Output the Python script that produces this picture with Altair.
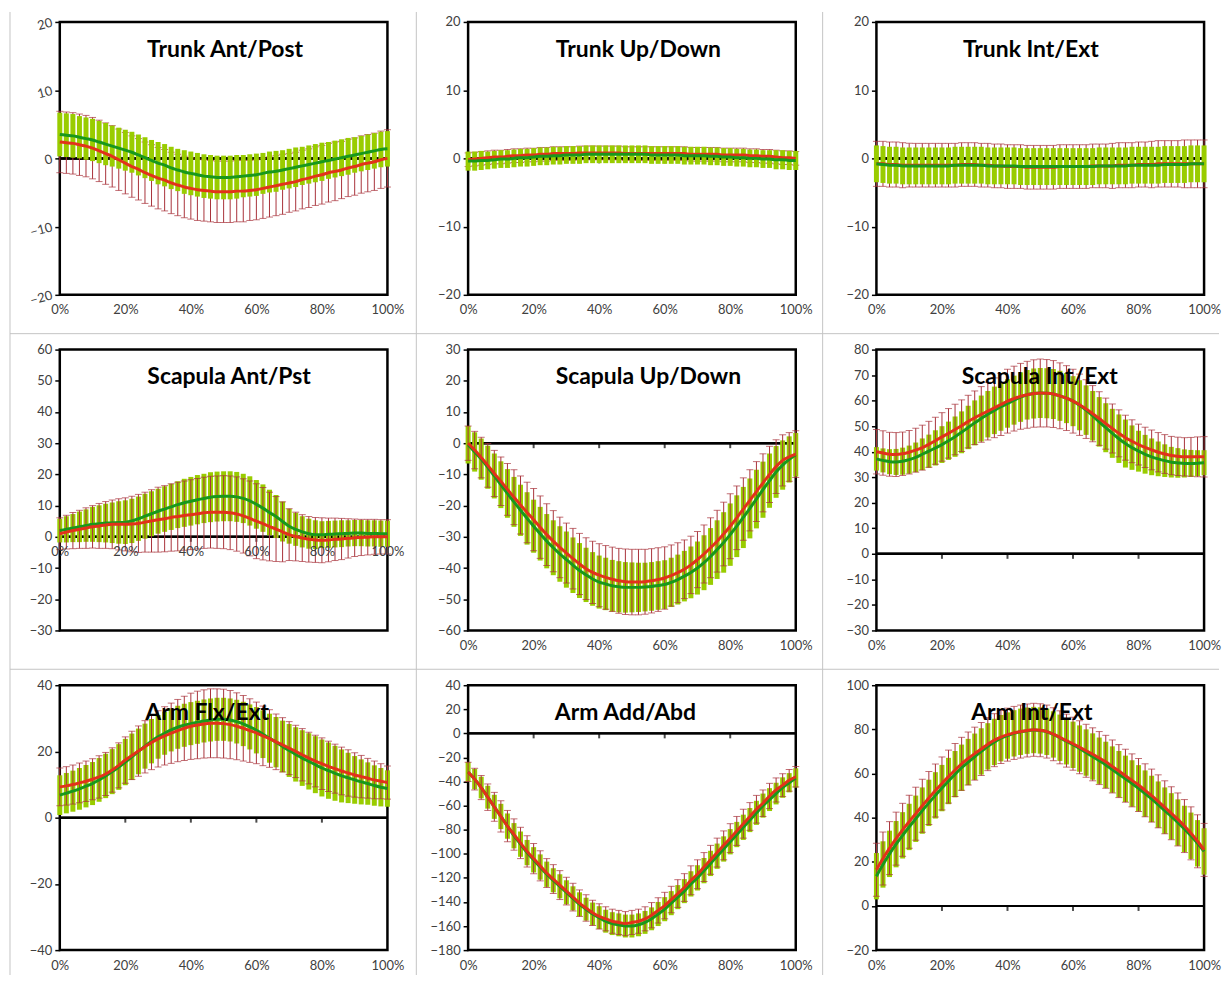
import altair as alt
import pandas as pd

x_pct = list(range(0, 101, 2))

# ---------------- Trunk Ant/Post
p1_g_mean = [3.5,3.4,3.3,3.1,2.9,2.7,2.4,2.1,1.8,1.5, 1.2,0.9,0.5,0.1,-0.3,-0.7,-1.0,-1.4,-1.7,-2.0, -2.2,-2.4,-2.6,-2.7,-2.8,-2.8,-2.8,-2.7,-2.6,-2.5, -2.4,-2.2,-2.0,-1.9,-1.7,-1.5,-1.3,-1.1,-0.9,-0.7, -0.5,-0.3,-0.1,0.1,0.3,0.5,0.7,0.9,1.1,1.3, 1.4]
p1_g_sd = [3.2,3.2,3.2,3.1,3.1,3.1,3.1,3.1,3.0,3.0, 3.0,3.0,3.0,3.0,3.0,3.1,3.1,3.1,3.1,3.2, 3.2,3.2,3.2,3.2,3.2,3.2,3.2,3.2,3.1,3.1, 3.1,3.0,3.0,3.0,2.9,2.9,2.9,2.8,2.8,2.8, 2.8,2.7,2.7,2.7,2.7,2.6,2.6,2.6,2.6,2.6, 2.6]
p1_r_mean = [2.4,2.3,2.2,2.0,1.8,1.5,1.1,0.7,0.3,-0.2, -0.7,-1.2,-1.6,-2.1,-2.5,-2.9,-3.2,-3.6,-3.9,-4.2, -4.4,-4.6,-4.7,-4.8,-4.9,-4.9,-4.9,-4.8,-4.8,-4.7, -4.6,-4.4,-4.2,-4.0,-3.8,-3.6,-3.4,-3.1,-2.9,-2.6, -2.4,-2.1,-1.9,-1.7,-1.4,-1.2,-0.9,-0.7,-0.5,-0.2, 0.0]
p1_r_sd = [4.5,4.5,4.5,4.5,4.5,4.5,4.5,4.5,4.5,4.5, 4.5,4.5,4.5,4.5,4.5,4.5,4.5,4.5,4.5,4.5, 4.5,4.5,4.5,4.5,4.5,4.5,4.5,4.5,4.5,4.4, 4.4,4.4,4.4,4.4,4.4,4.3,4.3,4.3,4.3,4.3, 4.3,4.3,4.3,4.2,4.2,4.2,4.2,4.2,4.2,4.2, 4.2]

# ---------------- Trunk Up/Down
p2_g_mean = [-0.4,-0.4,-0.3,-0.3,-0.2,-0.1,-0.1,0.0,0.1,0.1, 0.2,0.3,0.3,0.4,0.4,0.5,0.5,0.5,0.6,0.6, 0.6,0.6,0.6,0.6,0.6,0.6,0.6,0.6,0.5,0.5, 0.5,0.5,0.5,0.4,0.4,0.4,0.4,0.3,0.3,0.2, 0.2,0.1,0.1,0.0,0.0,-0.1,-0.1,-0.2,-0.2,-0.3, -0.3]
p2_g_sd = [1.4,1.4,1.4,1.3,1.3,1.3,1.3,1.3,1.3,1.3, 1.3,1.3,1.3,1.3,1.3,1.3,1.3,1.3,1.3,1.3, 1.3,1.3,1.3,1.3,1.3,1.3,1.3,1.3,1.3,1.3, 1.3,1.3,1.3,1.3,1.3,1.3,1.3,1.3,1.3,1.3, 1.3,1.3,1.3,1.3,1.3,1.3,1.3,1.4,1.4,1.4, 1.4]
p2_r_mean = [-0.2,-0.1,0.0,0.1,0.2,0.2,0.3,0.4,0.4,0.5, 0.5,0.6,0.6,0.7,0.7,0.7,0.7,0.8,0.8,0.8, 0.8,0.8,0.8,0.8,0.7,0.7,0.7,0.7,0.7,0.7, 0.7,0.7,0.7,0.7,0.6,0.6,0.6,0.6,0.6,0.5, 0.5,0.5,0.5,0.4,0.4,0.3,0.3,0.2,0.1,0.1, 0.0]
p2_r_sd = [1.0,1.0,1.0,1.0,1.0,1.0,1.0,1.0,1.0,1.0, 1.0,1.0,1.0,1.0,1.0,1.0,1.0,1.0,1.0,1.0, 1.0,1.0,1.0,1.0,1.0,1.0,1.0,1.0,1.0,1.0, 1.0,1.0,1.0,1.0,1.0,1.0,1.0,1.0,1.0,1.0, 1.0,1.0,1.0,1.0,1.0,1.0,1.0,1.0,1.0,1.0, 1.0]

# ---------------- Trunk Int/Ext
p3_g_mean = [-0.8,-0.9,-1.0,-1.0,-1.1,-1.1,-1.1,-1.1,-1.1,-1.1, -1.1,-1.1,-1.0,-1.0,-1.0,-1.0,-1.0,-1.1,-1.1,-1.1, -1.1,-1.1,-1.2,-1.2,-1.2,-1.2,-1.2,-1.2,-1.2,-1.2, -1.2,-1.2,-1.2,-1.2,-1.1,-1.1,-1.1,-1.1,-1.1,-1.0, -1.0,-1.0,-1.0,-1.0,-0.9,-0.9,-0.9,-0.9,-0.8,-0.8, -0.8]
p3_g_sd = [2.7,2.7,2.7,2.7,2.7,2.7,2.7,2.7,2.7,2.7, 2.7,2.7,2.7,2.7,2.7,2.7,2.7,2.7,2.7,2.7, 2.7,2.7,2.7,2.7,2.7,2.7,2.7,2.7,2.7,2.7, 2.7,2.7,2.7,2.7,2.7,2.7,2.7,2.7,2.7,2.7, 2.7,2.7,2.7,2.7,2.7,2.7,2.7,2.7,2.7,2.7, 2.7]
p3_r_mean = [-0.8,-0.8,-0.9,-0.9,-1.0,-1.0,-1.0,-1.0,-1.0,-1.0, -1.0,-1.0,-1.0,-0.9,-0.9,-0.9,-1.0,-1.0,-1.1,-1.1, -1.2,-1.2,-1.2,-1.3,-1.3,-1.3,-1.3,-1.3,-1.2,-1.2, -1.2,-1.2,-1.2,-1.1,-1.1,-1.1,-1.1,-1.0,-1.0,-1.0, -0.9,-0.9,-0.9,-0.8,-0.8,-0.8,-0.8,-0.8,-0.8,-0.8, -0.8]
p3_r_sd = [3.3,3.3,3.3,3.3,3.3,3.2,3.2,3.2,3.2,3.2, 3.2,3.2,3.2,3.2,3.2,3.2,3.2,3.2,3.2,3.2, 3.2,3.2,3.2,3.2,3.2,3.2,3.2,3.2,3.2,3.2, 3.2,3.2,3.2,3.2,3.2,3.2,3.3,3.3,3.3,3.3, 3.3,3.3,3.4,3.4,3.4,3.4,3.4,3.5,3.5,3.5, 3.5]

# ---------------- Scapula Ant/Pst
p4_g_mean = [2.0,2.4,2.8,3.2,3.6,4.0,4.2,4.4,4.5,4.6, 4.7,5.1,5.8,6.6,7.4,8.2,8.9,9.6,10.3,10.9, 11.4,11.9,12.3,12.7,12.9,13.0,13.0,12.8,12.3,11.5, 10.4,9.2,7.8,6.5,4.9,3.4,2.4,1.6,1.0,0.7, 0.7,0.8,0.9,1.0,1.1,1.2,1.2,1.1,1.1,1.0, 1.0]
p4_g_sd = [3.8,4.2,4.5,4.9,5.2,5.6,5.9,6.2,6.5,6.8, 7.0,7.1,7.1,7.2,7.2,7.2,7.3,7.4,7.5,7.7, 7.8,7.9,7.9,8.0,8.0,8.0,8.0,8.0,7.9,7.9, 7.8,7.6,7.3,6.9,6.4,5.6,5.3,5.0,4.8,4.6, 4.3,4.3,4.3,4.3,4.2,4.2,4.2,4.2,4.2,4.2, 4.2]
p4_r_mean = [1.0,1.5,2.0,2.4,2.8,3.2,3.5,3.8,4.0,4.0, 4.0,4.1,4.3,4.7,5.1,5.5,5.8,6.2,6.5,6.8, 7.1,7.4,7.7,7.9,7.9,7.9,7.7,7.3,6.7,5.9, 5.0,4.2,3.3,2.5,1.6,0.7,0.1,-0.4,-0.8,-1.0, -1.1,-1.0,-0.8,-0.7,-0.5,-0.3,-0.2,-0.1,0.0,0.0, 0.0]
p4_r_sd = [5.1,5.4,5.8,6.1,6.5,6.8,7.2,7.5,7.8,8.2, 8.5,8.9,9.3,9.6,10.0,10.4,10.6,10.8,11.0,11.1, 11.2,11.3,11.4,11.5,11.6,11.7,11.8,11.9,11.9,12.0, 12.0,11.6,11.0,10.4,9.6,8.3,7.8,7.5,7.3,7.2, 7.2,7.0,6.8,6.6,6.3,6.0,5.8,5.7,5.6,5.5, 5.5]

# ---------------- Scapula Up/Down
p5_g_mean = [-0.5,-2.8,-5.1,-7.7,-10.5,-13.3,-16.1,-18.8,-21.5,-24.1, -26.6,-29.0,-31.4,-33.5,-35.5,-37.3,-39.1,-40.8,-42.2,-43.5, -44.5,-45.1,-45.7,-46.0,-46.2,-46.2,-46.2,-46.1,-45.9,-45.6, -45.3,-44.6,-43.7,-42.6,-41.4,-40.0,-38.3,-36.3,-34.1,-31.8, -29.3,-26.6,-23.8,-20.9,-17.9,-14.9,-12.0,-9.2,-7.0,-5.2, -3.7]
p5_g_sd = [6.0,6.3,6.6,6.9,7.2,7.5,7.8,8.0,8.2,8.4, 8.5,8.6,8.7,8.8,8.9,9.0,8.9,8.8,8.7,8.6, 8.5,8.4,8.3,8.2,8.1,8.0,7.9,7.8,7.8,7.8, 7.8,7.9,8.0,8.1,8.3,8.5,8.8,9.1,9.4,9.7, 10.0,9.9,9.8,9.6,9.4,9.0,8.7,8.3,7.9,7.4, 7.0]
p5_r_mean = [0.0,-2.2,-4.6,-7.1,-9.7,-12.2,-14.8,-17.3,-19.8,-22.2, -24.5,-26.9,-29.3,-31.4,-33.4,-35.2,-37.0,-38.7,-40.2,-41.4, -42.3,-43.0,-43.6,-44.1,-44.4,-44.5,-44.5,-44.4,-44.1,-43.7, -43.2,-42.4,-41.5,-40.4,-39.0,-37.3,-35.5,-33.5,-31.4,-29.1, -26.6,-23.9,-21.1,-18.3,-15.5,-12.7,-10.0,-7.5,-5.5,-4.4, -3.5]
p5_r_sd = [5.5,6.0,6.5,7.0,7.4,7.8,8.3,8.8,9.3,9.7, 10.0,10.0,9.9,9.8,9.7,9.6,9.7,9.8,9.9,10.0, 10.1,10.2,10.3,10.4,10.5,10.5,10.5,10.4,10.3,10.2, 10.0,9.8,9.6,9.4,9.2,9.0,9.3,9.6,9.9,10.2, 10.4,10.2,10.0,9.8,9.6,9.3,9.0,8.6,8.2,7.8, 7.5]

# ---------------- Scapula Int/Ext
p6_g_mean = [37.2,36.6,36.1,36.0,36.3,36.9,37.8,39.0,40.2,41.5, 42.8,44.3,45.9,47.6,49.5,51.3,53.0,54.7,56.2,57.6, 58.9,60.2,61.4,62.3,62.8,63.0,62.9,62.6,61.9,61.0, 59.8,58.2,56.3,54.1,51.7,49.4,47.2,45.1,43.2,41.6, 40.2,39.0,38.0,37.2,36.5,35.9,35.6,35.4,35.4,35.5, 35.7]
p6_g_sd = [4.6,4.7,4.9,5.1,5.3,5.5,5.8,6.2,6.5,6.9, 7.2,7.5,7.9,8.2,8.5,8.8,9.0,9.1,9.3,9.4, 9.5,9.6,9.7,9.7,9.8,9.8,9.8,9.8,9.8,9.8, 9.8,9.8,9.7,9.7,9.7,9.6,9.6,9.5,9.4,8.7, 8.0,7.6,7.2,6.8,6.4,6.0,5.8,5.5,5.3,5.1, 4.9]
p6_r_mean = [40.0,39.5,39.0,38.9,39.2,39.8,40.6,41.6,42.9,44.3, 45.8,47.2,48.7,50.2,51.8,53.3,54.6,55.9,57.2,58.5, 59.8,60.8,61.7,62.3,62.8,63.0,62.9,62.6,61.9,61.0, 59.8,58.4,56.7,54.9,53.0,51.0,49.1,47.2,45.5,44.1, 42.8,41.7,40.7,39.8,39.1,38.5,38.2,38.0,38.0,38.0, 38.0]
p6_r_sd = [8.7,8.7,8.6,8.6,8.5,8.5,8.6,8.8,9.0,9.2, 9.5,9.7,9.9,10.1,10.3,10.5,10.9,11.3,11.7,12.1, 12.5,12.7,12.9,13.1,13.2,13.3,13.2,13.1,12.9,12.7, 12.5,12.0,11.5,11.0,10.5,10.0,9.6,9.2,8.8,8.4, 8.0,7.9,7.8,7.7,7.6,7.5,7.5,7.5,7.6,7.8, 7.9]

# ---------------- Arm Flx/Ext
p7_g_mean = [6.8,7.4,8.0,8.7,9.5,10.3,11.4,12.6,13.9,15.3, 16.8,18.4,20.0,21.6,23.1,24.4,25.5,26.5,27.3,27.9, 28.4,28.8,29.2,29.5,29.7,29.7,29.5,29.0,28.3,27.4, 26.4,25.2,24.0,22.8,21.5,20.3,19.1,18.0,17.0,16.0, 15.0,14.2,13.4,12.6,12.0,11.4,10.8,10.3,9.7,9.2, 8.8]
p7_g_sd = [6.0,6.1,6.2,6.3,6.4,6.5,6.6,6.7,6.8,6.9, 7.0,7.0,6.9,6.8,6.7,6.6,6.5,6.5,6.5,6.5, 6.5,6.5,6.5,6.5,6.5,6.5,6.5,6.6,6.7,6.8, 7.0,7.2,7.4,7.6,7.8,8.0,8.2,8.4,8.5,8.6, 8.6,8.5,8.3,8.0,7.6,7.2,6.8,6.4,6.1,5.8, 5.5]
p7_r_mean = [9.3,9.6,10.0,10.5,11.0,11.6,12.3,13.2,14.4,15.8, 17.4,18.8,20.1,21.4,22.7,23.8,24.7,25.5,26.3,27.0, 27.6,28.0,28.3,28.5,28.5,28.4,28.1,27.6,27.0,26.3, 25.6,24.7,23.9,22.9,22.0,21.0,20.0,19.0,18.0,17.1, 16.3,15.5,14.8,14.1,13.5,12.9,12.4,11.9,11.4,11.0, 10.6]
p7_r_sd = [5.7,5.8,5.9,6.0,6.1,6.2,6.4,6.5,6.7,6.8, 7.0,7.3,7.6,7.9,8.2,8.5,8.8,9.1,9.4,9.7, 10.0,10.2,10.3,10.4,10.4,10.4,10.3,10.1,9.9,9.6, 9.3,9.0,8.7,8.4,8.2,8.0,7.9,7.9,7.8,7.8, 7.8,7.6,7.4,7.2,7.0,6.7,6.4,6.0,5.7,5.3, 5.0]

# ---------------- Arm Add/Abd
p8_g_mean = [-32,-38,-45,-53,-61,-69,-77,-85,-92,-99, -105,-111,-117,-122,-127,-132,-137,-142,-146,-150, -153,-156,-158,-159,-160,-160,-159,-157,-154,-150, -146,-141,-136,-131,-125,-120,-114,-108,-102,-96, -90,-84,-78,-72,-66,-60,-55,-50,-45,-41, -37]
p8_g_sd = [8,8.5,9,9.5,10,10.5,10.5,10.5,10.5,10.5, 10.5,10.5,10.5,10,10,10,10,10,9.5,9.5, 9.5,9.5,9.5,9.5,9.5,9.5,9.5,9.5,9.5,10, 10,10,10,10,10.5,10.5,10.5,10.5,10.5,10.5, 10.5,10.5,10.5,10,10,10,9.5,9,8.5,8, 8]
p8_r_mean = [-32,-38,-45,-53,-61,-69,-77,-84,-91,-98, -104,-110,-116,-121,-126,-131,-136,-141,-145,-149, -152,-154,-156,-157,-158,-157,-156,-154,-151,-147, -143,-138,-133,-128,-122,-117,-111,-105,-99,-93, -87,-81,-75,-69,-63,-58,-52,-47,-43,-39, -36]
p8_r_sd = [8,9,10,11,12,13,13,13,13,13, 12.5,12.5,12,12,12,11.5,11.5,11,11,10.5, 10.5,10,10,10,10,10,10,10,10.5,10.5, 11,11,11.5,11.5,12,12,12,12,12,12, 12,12,12,11.5,11.5,11,10.5,10,9.5,9, 8.5]

# ---------------- Arm Int/Ext
p9_g_mean = [13.5,18.8,23.6,28.0,32.0,35.8,39.5,43.2,46.7,50.1, 53.4,56.6,59.7,62.6,65.2,67.6,70.0,72.3,74.3,76.0, 77.2,78.2,78.9,79.4,79.7,79.5,78.9,77.7,76.2,74.6, 73.0,71.3,69.5,67.7,65.8,63.9,61.8,59.7,57.6,55.5, 53.3,50.9,48.5,45.9,43.2,40.6,37.8,34.9,31.8,28.4, 24.7]
p9_g_sd = [10.5,10.5,10.5,10.5,10.5,10.5,10.5,10.5,10.5,10.5, 10.5,10.5,10.5,10.5,10.5,10.5,10.5,10.5,10.5,10.5, 10.5,10.5,10.5,10.5,10.5,10.5,10.5,10.5,10.5,10.5, 10.5,10.5,10.5,10.5,10.5,10.5,10.5,10.5,10.5,10.5, 10.5,10.5,10.5,10.5,10.5,10.5,10.5,10.5,10.5,10.5, 10.5]
p9_r_mean = [16.4,21.5,26.2,30.5,34.5,38.2,41.8,45.4,48.9,52.3, 55.5,58.6,61.6,64.4,66.8,69.0,71.1,73.3,75.1,76.5, 77.6,78.4,79.0,79.5,79.8,79.6,79.0,77.8,76.4,74.9, 73.5,71.9,70.3,68.7,67.0,65.3,63.2,61.1,59.0,56.9, 54.8,52.4,50.0,47.4,44.7,42.0,39.2,36.2,32.9,29.3, 25.4]
p9_r_sd = [12.0,12.0,12.0,12.0,12.0,12.0,12.0,12.0,12.0,12.0, 12.0,12.0,12.0,12.0,12.0,12.0,12.0,12.0,12.0,12.0, 12.0,12.0,12.0,12.0,12.0,12.0,12.0,12.0,12.0,12.0, 12.0,12.0,12.0,12.0,12.0,12.0,12.0,12.0,12.0,12.0, 12.0,12.0,12.0,12.0,12.0,12.0,12.0,12.0,12.0,12.0, 12.0]

titles = ["Trunk Ant/Post", "Trunk Up/Down", "Trunk Int/Ext",
          "Scapula Ant/Pst", "Scapula Up/Down", "Scapula Int/Ext",
          "Arm Flx/Ext", "Arm Add/Abd", "Arm Int/Ext"]
y_domains = [[-20, 20], [-20, 20], [-20, 20],
             [-30, 60], [-60, 30], [-30, 80],
             [-40, 40], [-180, 40], [-20, 100]]
y_steps = [10, 10, 10, 10, 10, 10, 20, 20, 20]
x_tick_labels = [0, 20, 40, 60, 80, 100]
x_minor = [20, 40, 60, 80]

series = [
    (p1_g_mean, p1_g_sd, p1_r_mean, p1_r_sd),
    (p2_g_mean, p2_g_sd, p2_r_mean, p2_r_sd),
    (p3_g_mean, p3_g_sd, p3_r_mean, p3_r_sd),
    (p4_g_mean, p4_g_sd, p4_r_mean, p4_r_sd),
    (p5_g_mean, p5_g_sd, p5_r_mean, p5_r_sd),
    (p6_g_mean, p6_g_sd, p6_r_mean, p6_r_sd),
    (p7_g_mean, p7_g_sd, p7_r_mean, p7_r_sd),
    (p8_g_mean, p8_g_sd, p8_r_mean, p8_r_sd),
    (p9_g_mean, p9_g_sd, p9_r_mean, p9_r_sd),
]

# layout / style (not data)
W = 329
row_heights = [274, 282, 266]
title_x = [166, 171, 155, 170, 181, 164, 148, 158, 156]
title_y = 35
green_on_top = [True, True, True, False, False, False, False, False, False]
labels_at_zero = [False, False, False, True, False, False, False, False, False]

GREEN_BAR = "#99CC00"
RED_BAR = "#A8323A"
GREEN_LINE = "#18981C"
RED_LINE = "#E2321A"
FONT = "Lato"


def make_panel(i):
    gm, gs, rm, rs = series[i]
    for arr in (gm, gs, rm, rs):
        assert len(arr) == len(x_pct), (titles[i], len(arr))
    df = pd.DataFrame({
        "x": x_pct,
        "gm": gm, "glo": [m - s for m, s in zip(gm, gs)], "ghi": [m + s for m, s in zip(gm, gs)],
        "rm": rm, "rlo": [m - s for m, s in zip(rm, rs)], "rhi": [m + s for m, s in zip(rm, rs)],
    })
    h = row_heights[i // 3]
    lo, hi = y_domains[i]
    yvals = list(range(lo, hi + 1, y_steps[i]))
    ysc = alt.Scale(domain=[lo, hi], nice=False, zero=False)
    xsc = alt.Scale(domain=[0, 100], nice=False, zero=False)
    yax_kw = dict(values=yvals, domain=False, grid=False, ticks=True, tickSize=5,
                  tickColor="black", tickWidth=1.5, labelFont=FONT, labelFontSize=13,
                  labelColor="#404040", labelPadding=3, title=None)
    if i == 0:
        yax_kw["labelAngle"] = 345
    yax = alt.Axis(**yax_kw)
    off = 0
    if labels_at_zero[i]:
        off = -round(h * (0 - lo) / (hi - lo))
    xax = alt.Axis(values=x_tick_labels, labelExpr="datum.value + '%'", domain=False,
                   ticks=False, grid=False, labelPadding=9, labelFont=FONT, labelFontSize=13,
                   labelColor="#404040", labelFlush=False, offset=off, zindex=1, title=None)

    X = alt.X("x:Q", scale=xsc, axis=xax)

    def Y(f):
        return alt.Y(f, type="quantitative", scale=ysc, axis=yax)

    zero_df = pd.DataFrame({"x": x_minor, "z": [0] * len(x_minor)})
    zero_line = alt.Chart(zero_df).mark_rule(color="black", strokeWidth=2).encode(y=Y("z"))
    zero_ticks = alt.Chart(zero_df).mark_tick(orient="vertical", size=5, thickness=2,
                                              color="black", yOffset=2.5).encode(x=X, y=Y("z"))

    base = alt.Chart(df)
    green_bars = base.mark_rule(color=GREEN_BAR, strokeWidth=5, strokeCap="butt").encode(
        x=X, y=Y("glo"), y2="ghi")
    red_bars = base.mark_rule(color=RED_BAR, strokeWidth=1).encode(x=X, y=Y("rlo"), y2="rhi")
    red_cap_lo = base.mark_tick(orient="horizontal", size=7, thickness=1, color=RED_BAR).encode(
        x=X, y=Y("rlo"))
    red_cap_hi = base.mark_tick(orient="horizontal", size=7, thickness=1, color=RED_BAR).encode(
        x=X, y=Y("rhi"))
    green_line = base.mark_line(color=GREEN_LINE, strokeWidth=3, interpolate="monotone").encode(
        x=X, y=Y("gm"))
    red_line = base.mark_line(color=RED_LINE, strokeWidth=3, interpolate="monotone").encode(
        x=X, y=Y("rm"))
    title = alt.Chart(pd.DataFrame({"t": [titles[i]]})).mark_text(
        font=FONT, fontWeight="bold", fontSize=23, align="center", baseline="alphabetic",
        color="black").encode(text="t:N", x=alt.value(title_x[i]), y=alt.value(title_y))

    layers = [zero_line, zero_ticks]
    if green_on_top[i]:
        layers += [red_bars, red_cap_lo, red_cap_hi, green_bars, red_line, green_line]
    else:
        layers += [green_bars, red_bars, red_cap_lo, red_cap_hi, green_line, red_line]
    layers += [title]

    if i == 0:
        one = pd.DataFrame({"a": [0]})
        sep = dict(color="#c4c4c4", strokeWidth=1)
        for vx in (-50, 358, 766):
            layers.append(alt.Chart(one).mark_rule(**sep).encode(
                x=alt.value(vx), y=alt.value(-10), y2=alt.value(957)))
        for hy in (313, 650):
            layers.append(alt.Chart(one).mark_rule(**sep).encode(
                y=alt.value(hy), x=alt.value(-50), x2=alt.value(1164)))

    return alt.layer(*layers).properties(width=W, height=h)


panels = [make_panel(i) for i in range(9)]

chart = alt.concat(*panels, columns=3, bounds="flush",
                   spacing={"row": 55, "column": 81}).properties(
    padding=0, background="white"
).configure_view(stroke="black", strokeWidth=2.5).configure_axis(labelFont=FONT)

chart.save("out.html", embed_options={"renderer": "svg", "actions": False})
